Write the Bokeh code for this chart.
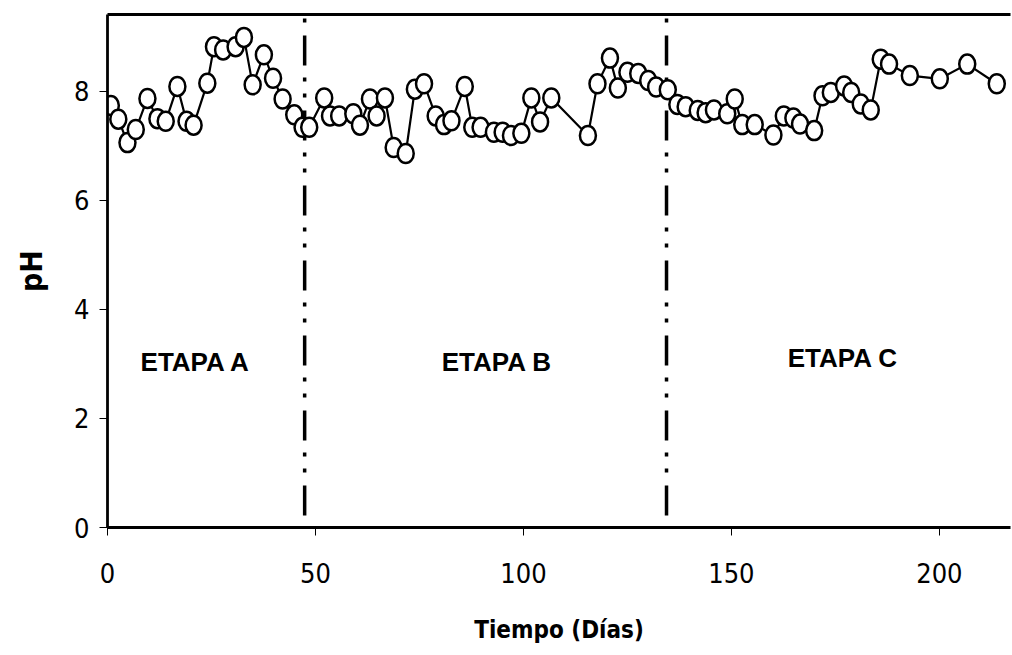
from bokeh.plotting import figure
from bokeh.models import Range1d, FixedTicker, LinearAxis, ColumnDataSource
from bokeh.core.properties import value
from bokeh.embed import file_html
from bokeh.resources import INLINE

days = [0.8, 2.6, 4.8, 6.8, 9.6, 12.0, 14.0, 16.8, 19.0, 20.7, 24.0, 25.6, 27.8, 30.8, 32.8,
        34.9, 37.6, 39.8, 42.1, 44.9, 46.9, 48.5,
        52.1, 53.5, 55.7, 59.1, 60.7, 63.1, 64.7, 66.7, 68.8, 71.7, 73.9, 76.1, 78.9, 80.9,
        82.7, 85.9, 87.7, 89.7, 92.9, 95.0, 97.0, 99.5, 101.9, 104.0, 106.7, 115.5, 117.8,
        120.8, 122.7, 125.0, 127.6, 130.0, 131.9, 134.7,
        137.0, 139.0, 141.9, 143.8, 145.8, 149.0, 150.8, 152.6, 155.6, 160.1, 162.6, 164.9,
        166.5, 169.9, 171.9, 173.9, 177.1, 178.8, 181.1, 183.5, 185.9, 187.9, 192.9, 200.1,
        206.7, 213.8]
ph = [7.74, 7.49, 7.06, 7.30, 7.87, 7.50, 7.45, 8.09, 7.45, 7.38, 8.15, 8.82, 8.76, 8.82, 8.99,
      8.12, 8.67, 8.24, 7.86, 7.57, 7.34, 7.34,
      7.88, 7.55, 7.55, 7.59, 7.38, 7.86, 7.55, 7.88, 6.97, 6.86, 8.04, 8.14, 7.55, 7.39,
      7.46, 8.09, 7.34, 7.34, 7.25, 7.25, 7.19, 7.23, 7.88, 7.44, 7.88, 7.19, 8.14,
      8.61, 8.06, 8.35, 8.33, 8.20, 8.08, 8.03,
      7.76, 7.72, 7.65, 7.61, 7.66, 7.59, 7.86, 7.39, 7.39, 7.20, 7.55, 7.51,
      7.40, 7.28, 7.92, 7.98, 8.10, 7.98, 7.77, 7.66, 8.59, 8.50, 8.29, 8.23,
      8.50, 8.14]

stage_bounds = [47.4, 134.4]
stage_names = ["ETAPA A", "ETAPA B", "ETAPA C"]
stage_label_x = [21.2, 93.6, 176.8]
stage_label_y = [3.04, 3.04, 3.11]

x_ticks = [0, 50, 100, 150, 200]
y_ticks = [0, 2, 4, 6, 8]

NARROW = "'Liberation Sans Narrow', 'DejaVu Sans Condensed', 'Liberation Sans', sans-serif"

p = figure(width=1012, height=655, output_backend="svg", toolbar_location=None,
           x_range=Range1d(0, 217.1), y_range=Range1d(0, 9.41),
           min_border_left=107, min_border_right=2, min_border_top=14, min_border_bottom=128)
p.grid.visible = False
p.outline_line_color = None
p.background_fill_color = "white"
p.border_fill_color = "white"

for ax, ticks in ((p.xaxis[0], x_ticks), (p.yaxis[0], y_ticks)):
    ax.ticker = FixedTicker(ticks=ticks)
    ax.minor_tick_line_color = None
    ax.axis_line_width = 2.8
    ax.axis_line_color = "black"
    ax.major_tick_line_color = "black"
    ax.major_tick_line_width = 1
    ax.major_tick_out = 8
    ax.major_tick_in = 0
    ax.major_label_text_font = NARROW
    ax.major_label_text_font_size = "27px"
    ax.major_label_text_color = "black"
    ax.axis_label_text_font = NARROW
    ax.axis_label_text_font_style = "bold"
    ax.axis_label_text_color = "black"

p.xaxis.axis_label = "Tiempo (Días)"
p.yaxis.axis_label = "pH"
p.xaxis.axis_label_text_font_size = "24px"
p.yaxis.axis_label_text_font_size = "30px"
p.xaxis.major_label_standoff = 27
p.yaxis.major_label_standoff = 10
p.xaxis.axis_label_standoff = 30
p.yaxis.axis_label_standoff = 22

top = LinearAxis(ticker=FixedTicker(ticks=[]), major_label_text_font_size="0px",
                 axis_line_width=2.8, axis_line_color="black",
                 major_tick_line_color=None, minor_tick_line_color=None)
p.add_layout(top, "above")

for b in stage_bounds:
    p.line([b, b], [9.41, 0], line_color="black", line_width=3.5,
           line_dash="30 12 4 12 4 13", line_dash_offset=54)

src = ColumnDataSource(dict(x=days, y=ph))
p.line("x", "y", source=src, line_color="black", line_width=2.2)
p.ellipse("x", "y", source=src, width=16, height=19, width_units="screen", height_units="screen",
          fill_color="white", line_color="black", line_width=2.5)

p.text(stage_label_x, stage_label_y, text=stage_names, text_font=value("Liberation Sans"),
       text_font_style="bold", text_font_size="26px", text_align="center",
       text_baseline="middle", text_color="black")

open("out.html", "w").write(file_html(p, INLINE))
